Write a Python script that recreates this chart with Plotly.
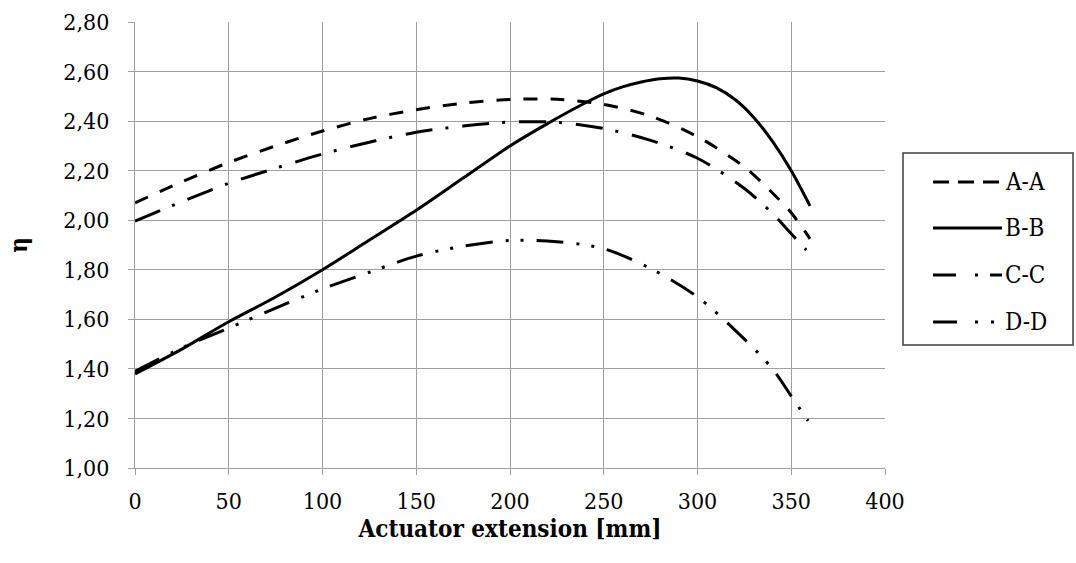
import plotly.graph_objects as go

# ---- data ----
x_ext = [0, 25, 50, 75, 100, 125, 150, 175, 200, 225, 250, 275, 300, 325, 340, 350, 360]
eta_AA = [2.07, 2.155, 2.233, 2.30, 2.36, 2.41, 2.446, 2.472, 2.487, 2.488, 2.467, 2.42, 2.337, 2.215, 2.11, 2.03, 1.925]

x_BB = [0, 25, 50, 75, 100, 125, 150, 175, 200, 220, 240, 250, 260, 270, 280, 290, 300, 310, 320, 330, 340, 350, 360]
eta_BB = [1.38, 1.48, 1.59, 1.69, 1.80, 1.92, 2.04, 2.17, 2.30, 2.39, 2.473, 2.51, 2.538, 2.558, 2.571, 2.574, 2.562, 2.535, 2.487, 2.415, 2.318, 2.20, 2.058]

x_CC = [0, 25, 50, 75, 100, 125, 150, 175, 200, 225, 250, 275, 300, 325, 340, 350, 358]
eta_CC = [1.996, 2.075, 2.149, 2.21, 2.267, 2.315, 2.355, 2.38, 2.396, 2.395, 2.37, 2.322, 2.25, 2.128, 2.027, 1.945, 1.88]

x_DD = [0, 25, 50, 75, 100, 125, 150, 175, 200, 225, 250, 275, 300, 325, 340, 350, 359]
eta_DD = [1.39, 1.485, 1.565, 1.645, 1.723, 1.79, 1.855, 1.895, 1.918, 1.913, 1.885, 1.805, 1.69, 1.52, 1.40, 1.29, 1.19]

series_names = ["A-A", "B-B", "C-C", "D-D"]
x_ticks = [0, 50, 100, 150, 200, 250, 300, 350, 400]
y_ticks = [1.0, 1.2, 1.4, 1.6, 1.8, 2.0, 2.2, 2.4, 2.6, 2.8]

# ---- styles ----
FONT = "DejaVu Serif Condensed, DejaVu Serif, serif"
GRID = "#a0a0a0"
LW = 3
FS = 23
plot_dash = {
    "A-A": "14px,13px",
    "B-B": "solid",
    "C-C": "27px,13px,3px,14px",
    "D-D": "27px,13px,3px,12px,3px,13px",
}
legend_dash = {
    "A-A": "16px,9px",
    "B-B": "solid",
    "C-C": "23px,19px,3px,12px",
    "D-D": "24px,18px,3px,13px,3px,40px",
}

data = {
    "A-A": (x_ext, eta_AA),
    "B-B": (x_BB, eta_BB),
    "C-C": (x_CC, eta_CC),
    "D-D": (x_DD, eta_DD),
}

fig = go.Figure()
for name in series_names:
    xs, ys = data[name]
    fig.add_trace(go.Scatter(
        x=xs, y=ys, name=name, mode="lines",
        line=dict(color="black", width=LW, dash=plot_dash[name], shape="spline", smoothing=0.9),
        showlegend=False,
    ))

W, H = 1076, 563
ML, MR, MT, MB = 135, 191, 22, 95
pw, ph = W - ML - MR, H - MT - MB

def px_x(p):
    return (p - ML) / pw

def px_y(p):
    return (H - MB - p) / ph

# ---- custom legend box ----
shapes = [dict(type="rect", xref="paper", yref="paper",
               x0=px_x(903), x1=px_x(1073), y0=px_y(345), y1=px_y(153),
               line=dict(color="#404040", width=1.5), fillcolor="white", layer="above")]
annotations = []
entry_y = [182, 228, 275, 322]
for name, ey in zip(series_names, entry_y):
    shapes.append(dict(type="line", xref="paper", yref="paper",
                       x0=px_x(933), x1=px_x(1002), y0=px_y(ey), y1=px_y(ey),
                       line=dict(color="black", width=LW, dash=legend_dash[name]), layer="above"))
    annotations.append(dict(xref="paper", yref="paper", x=px_x(1003), y=px_y(ey),
                            text=name, showarrow=False, xanchor="left", yanchor="middle",
                            font=dict(family=FONT, size=24, color="black")))

fig.update_layout(
    width=W, height=H,
    margin=dict(l=ML, r=MR, t=MT, b=MB, autoexpand=False),
    paper_bgcolor="white", plot_bgcolor="white",
    separators=",.",
    showlegend=False,
    font=dict(family=FONT, size=FS, color="black"),
    shapes=shapes, annotations=annotations,
)
fig.update_xaxes(
    range=[0, 400], tickvals=x_ticks, ticktext=[str(v) for v in x_ticks],
    showgrid=True, gridcolor=GRID, gridwidth=1,
    showline=True, linecolor=GRID, linewidth=1,
    ticks="outside", ticklen=6, tickcolor=GRID, ticklabelstandoff=6,
    zeroline=False, automargin=False,
    tickfont=dict(family=FONT, size=FS, color="black"),
    title=dict(text="<b>Actuator extension [mm]</b>", standoff=2,
               font=dict(family=FONT, size=24, color="black")),
)
fig.update_yaxes(
    range=[1.0, 2.8], tickvals=y_ticks, tickformat=".2f",
    showgrid=True, gridcolor=GRID, gridwidth=1,
    showline=True, linecolor=GRID, linewidth=1,
    ticks="outside", ticklen=6, tickcolor=GRID, ticklabelstandoff=14,
    zeroline=False, automargin=False,
    tickfont=dict(family=FONT, size=FS, color="black"),
    title=dict(text="<b>η</b>", standoff=28,
               font=dict(family=FONT, size=24, color="black")),
)

fig.write_html("out.html")
